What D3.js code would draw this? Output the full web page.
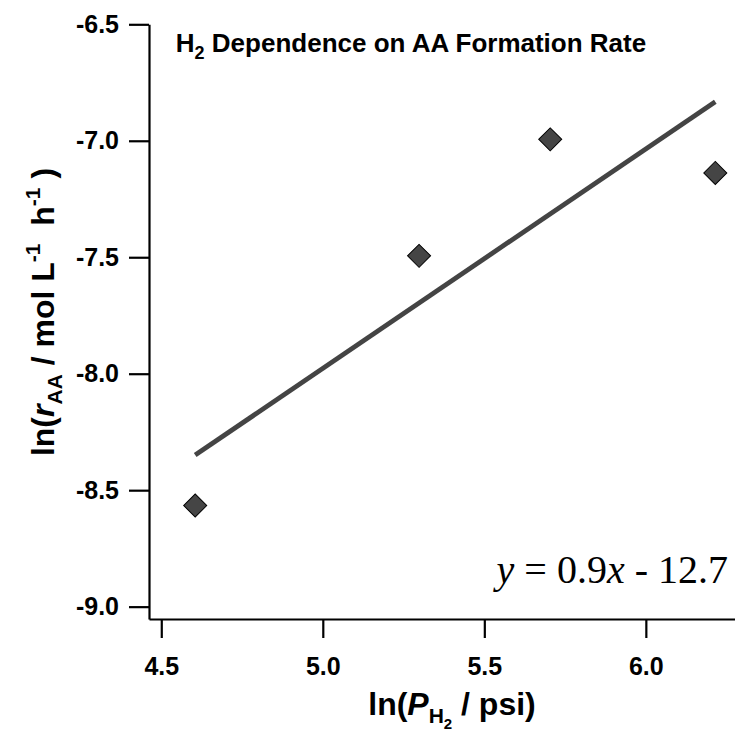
<!DOCTYPE html>
<html>
<head>
<meta charset="utf-8">
<script src="https://cdn.jsdelivr.net/npm/d3@7"></script>
<style>
    body { margin: 0; background: #fff; }
    svg text { font-family: "Liberation Sans", Arial, sans-serif; }
</style>
</head>
<body>
<div id="chart"></div>
<script>
// Données : ln(P_H2 / psi) et ln(r_AA)
var lnP = [4.605, 5.298, 5.704, 6.215];
var lnR = [-8.566, -7.494, -6.994, -7.138];
var xTicks = [4.5, 5.0, 5.5, 6.0];
var yTicks = [-6.5, -7.0, -7.5, -8.0, -8.5, -9.0];

var W = 735, H = 734;
var margin = { top: 24.3, left: 149, bottom: 115, right: 0 };
var width = W - margin.left - margin.right,
    height = H - margin.top - margin.bottom;

var svg = d3.select("#chart").append("svg")
    .attr("width", W)
    .attr("height", H);

var g = svg.append("g")
    .attr("transform", "translate(" + margin.left + "," + margin.top + ")");

// Echelles
var x = d3.scaleLinear().domain([4.462, 6.276]).range([0, width]);
var y = d3.scaleLinear().domain([-9.053, -6.5]).range([height, 0]);

// Axes
var xAxis = g.append("g")
    .attr("transform", "translate(0," + height + ")")
    .call(d3.axisBottom(x).tickValues(xTicks).tickSize(19).tickSizeOuter(0)
        .tickPadding(19).tickFormat(d3.format(".1f")));

var yAxis = g.append("g")
    .call(d3.axisLeft(y).tickValues(yTicks).tickSize(20).tickSizeOuter(0)
        .tickPadding(10).tickFormat(d3.format(".1f")));

[xAxis, yAxis].forEach(function (a) {
    a.select(".domain").attr("stroke", "#000").attr("stroke-width", 2.2);
    a.selectAll(".tick line").attr("stroke", "#000").attr("stroke-width", 2.2);
    a.selectAll(".tick text")
        .attr("fill", "#000")
        .style("font-size", "25px")
        .style("font-weight", "bold");
});
// le signe moins comme un tiret simple
yAxis.selectAll(".tick text").text(function (d) { return d3.format(".1f")(d).replace("−", "-"); });

// Régression linéaire
var mx = d3.mean(lnP), my = d3.mean(lnR);
var sxy = d3.sum(lnP, function (v, i) { return (v - mx) * (lnR[i] - my); });
var sxx = d3.sum(lnP, function (v) { return (v - mx) * (v - mx); });
var slope = sxy / sxx, intercept = my - slope * mx;
var xr = d3.extent(lnP);

g.append("line")
    .attr("x1", x(xr[0])).attr("y1", y(slope * xr[0] + intercept))
    .attr("x2", x(xr[1])).attr("y2", y(slope * xr[1] + intercept))
    .attr("stroke", "#444")
    .attr("stroke-width", 4.8);

// Points (losanges)
g.selectAll(".pt")
    .data(lnP)
    .enter().append("path")
    .attr("class", "pt")
    .attr("d", d3.symbol(d3.symbolSquare, 265))
    .attr("transform", function (d, i) { return "translate(" + x(d) + "," + y(lnR[i]) + ") rotate(45)"; })
    .attr("fill", "#454545")
    .attr("stroke", "#000")
    .attr("stroke-width", 1);

// Titre
var title = svg.append("text")
    .attr("x", 411).attr("y", 52)
    .attr("text-anchor", "middle")
    .style("font-size", "26px")
    .style("font-weight", "bold");
title.append("tspan").text("H");
title.append("tspan").attr("dy", 7).style("font-size", "18px").text("2");
title.append("tspan").attr("dy", -7).text(" Dependence on AA Formation Rate");

// Equation
var eq = svg.append("text")
    .attr("x", 728).attr("y", 583)
    .attr("text-anchor", "end")
    .attr("xml:space", "preserve")
    .style("font-family", "'Liberation Serif', 'Times New Roman', serif")
    .style("font-size", "40px");
eq.append("tspan").style("font-style", "italic").text("y");
eq.append("tspan").text(" = 0.9");
eq.append("tspan").style("font-style", "italic").text("x");
eq.append("tspan").text(" - 12.7");

// Titre de l'axe x
var xt = svg.append("text")
    .attr("x", 452).attr("y", 715)
    .attr("text-anchor", "middle")
    .style("font-size", "32px")
    .style("font-weight", "bold");
xt.append("tspan").text("ln(");
xt.append("tspan").style("font-style", "italic").text("P");
xt.append("tspan").attr("dy", 8).style("font-size", "21px").text("H");
xt.append("tspan").attr("dy", 6).style("font-size", "15px").text("2");
xt.append("tspan").attr("dy", -14).text(" / psi)");

// Titre de l'axe y
var yt = svg.append("text")
    .attr("transform", "translate(54,312) rotate(-90)")
    .attr("text-anchor", "middle")
    .attr("xml:space", "preserve")
    .style("font-size", "32px")
    .style("font-weight", "bold");
yt.append("tspan").text("ln(");
yt.append("tspan").style("font-style", "italic").text("r");
yt.append("tspan").attr("dy", 8).style("font-size", "21px").text("AA");
yt.append("tspan").attr("dy", -8).text(" / mol L");
yt.append("tspan").attr("dy", -14).style("font-size", "21px").text("-1");
yt.append("tspan").attr("dy", 14).text("  h");
yt.append("tspan").attr("dy", -14).style("font-size", "21px").text("-1");
yt.append("tspan").attr("dy", 14).text(" )");
</script>
</body>
</html>
